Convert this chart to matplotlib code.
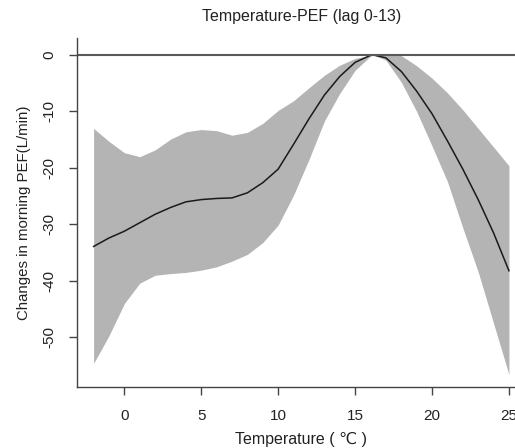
import numpy as np
import matplotlib.pyplot as plt

plt.rcParams['font.family'] = ['Liberation Sans', 'DejaVu Sans']

# temperature grid (deg C) and estimated effect curve with 95% CI
temp = [-2, -1, 0, 1, 2, 3, 4, 5, 6, 7, 8, 9, 10, 11, 12, 13, 14, 15,
        16, 16.2, 17, 18, 19, 20, 21, 22, 23, 24, 25]
fit = [-33.9, -32.4, -31.2, -29.7, -28.2, -27.0, -26.0, -25.6, -25.4, -25.3,
       -24.4, -22.6, -20.2, -15.8, -11.3, -7.1, -3.8, -1.3,
       -0.05, 0.0, -0.5, -2.9, -6.4, -10.4, -15.2, -20.2, -25.6, -31.5, -38.2]
upper = [-13.0, -15.3, -17.3, -18.0, -16.8, -14.9, -13.6, -13.2, -13.4, -14.2,
         -13.7, -12.1, -9.8, -8.1, -5.8, -3.6, -1.8, -0.6,
         -0.05, 0.0, 0.3, -0.1, -1.9, -4.1, -6.7, -9.7, -13.0, -16.3, -19.6]
lower = [-54.6, -49.7, -44.0, -40.4, -39.0, -38.7, -38.5, -38.1, -37.5, -36.5,
         -35.3, -33.2, -30.1, -24.8, -18.5, -11.7, -6.8, -2.7,
         -0.2, 0.0, -0.9, -4.8, -10.0, -16.1, -22.4, -30.6, -38.4, -47.5, -56.6]

xticks = [0, 5, 10, 15, 20, 25]
yticks = [0, -10, -20, -30, -40, -50]

fig = plt.figure(figsize=(5.15, 4.48), dpi=100)
ax = fig.add_axes([0.1495, 0.136, 0.871, 0.779])

ax.fill_between(temp, lower, upper, color='#b4b4b4', linewidth=0)
ax.plot(temp, fit, color='#1a1a1a', linewidth=1.1)
ax.axhline(0, color='#5a5a5a', linewidth=1.5)

ax.set_xlim(-3.08, 26.08)
ax.set_ylim(-58.8, 3.0)

for side in ['top', 'right']:
    ax.spines[side].set_visible(False)
for side in ['left', 'bottom']:
    ax.spines[side].set_color('#444444')
    ax.spines[side].set_linewidth(1.0)

ax.set_xticks(xticks)
ax.set_yticks(yticks)
ax.set_yticklabels([str(v) for v in yticks], rotation=90, va='center')
ax.tick_params(axis='both', direction='out', length=6, width=1.0,
               color='#444444', labelsize=11, labelcolor='#222222')
ax.tick_params(axis='y', pad=9)
ax.tick_params(axis='x', pad=10)

ax.set_xlabel('Temperature ( \u2103 )', fontsize=11.5, color='#222222', labelpad=6)
ax.set_ylabel('Changes in morning PEF(L/min)', fontsize=10.8, color='#222222', labelpad=8)
ax.set_title('Temperature-PEF (lag 0-13)', fontsize=11.5, color='#222222', pad=12)

fig.savefig('out.png', dpi=100)
